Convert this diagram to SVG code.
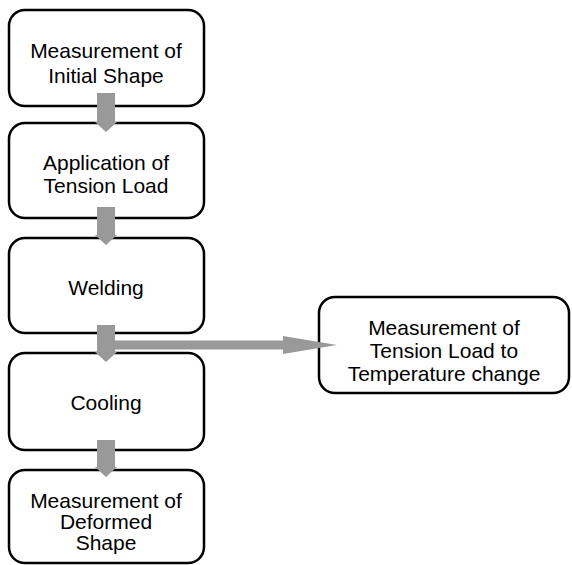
<svg xmlns="http://www.w3.org/2000/svg" width="572" height="565" viewBox="0 0 572 565">
<style>
.box{fill:#fff;stroke:#000;stroke-width:2.5}
.t{font-family:"Liberation Sans",Arial,sans-serif;font-size:21px;fill:#000;text-anchor:middle}
.arr{fill:#999}
</style>
<rect width="572" height="565" fill="#fff"/>
<g id="n1"><rect class="box" x="9" y="10" width="195" height="96" rx="16"/>
<text class="t" x="106" y="58">Measurement of</text><text class="t" x="106" y="83">Initial Shape</text></g>
<g id="n2"><rect class="box" x="9" y="123" width="195" height="95" rx="16"/>
<text class="t" x="106" y="170">Application  of</text><text class="t" x="106" y="193">Tension Load</text></g>
<g id="n3"><rect class="box" x="9" y="238" width="195" height="95" rx="16"/>
<text class="t" x="106" y="295">Welding</text></g>
<g id="n4"><rect class="box" x="9" y="353" width="195" height="97" rx="16"/>
<text class="t" x="106" y="410">Cooling</text></g>
<g id="n5"><rect class="box" x="9" y="470" width="195" height="93" rx="16"/>
<text class="t" x="106" y="508">Measurement of</text><text class="t" x="106" y="529">Deformed</text><text class="t" x="106" y="550">Shape</text></g>
<g id="n6"><rect class="box" x="319" y="297" width="250" height="96" rx="16"/>
<text class="t" x="444" y="335">Measurement of</text><text class="t" x="444" y="358">Tension Load to</text><text class="t" x="444" y="381">Temperature change</text></g>
<g id="connectors">
<path class="arr" d="M97 93H115V122H117L106 132L95 122H97Z"/>
<path class="arr" d="M97 207H115V235H117L106 245L95 235H97Z"/>
<path class="arr" d="M97 325H115V352H117L106 362L95 352H97Z"/>
<path class="arr" d="M97 440H115V467H117L106 477L95 467H97Z"/>
<path class="arr" d="M106 340.5H283V336L337 345L283 354V349.5H106Z"/>
</g>
</svg>
